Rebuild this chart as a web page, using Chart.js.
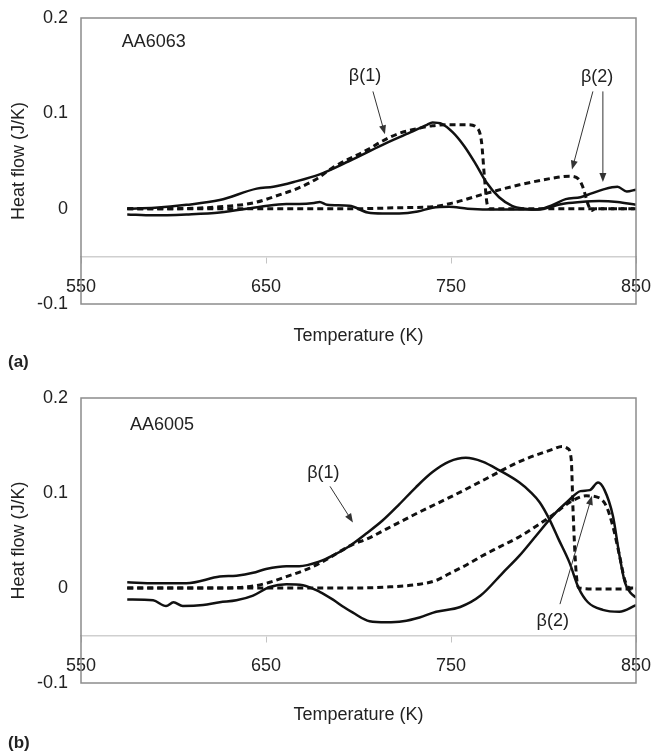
<!DOCTYPE html>
<html>
<head>
<meta charset="utf-8">
<script src="https://cdn.jsdelivr.net/npm/chart.js@4.4.0/dist/chart.umd.min.js"></script>
<style>
  body { margin: 0; background: #fff; }
  .panel { position: absolute; left: 0; width: 651px; }
  #panel-a { top: 0; height: 376px; }
  #panel-b { top: 376px; height: 379px; }
</style>
</head>
<body>
<div class="panel" id="panel-a"><canvas id="chart-a"></canvas></div>
<div class="panel" id="panel-b"><canvas id="chart-b"></canvas></div>
<script>
// tick labels
const xTicks = [550, 650, 750, 850];
const yTicks = [-0.1, 0, 0.1, 0.2];

// (a) AA6063 - temperature (K) and heat flow (J/K) per curve
const a63Solid1T = [575, 590, 607, 625, 645, 654, 665, 679, 695, 713, 728, 737, 740, 745, 751, 757, 763, 769, 776, 783, 790, 797, 805, 812, 820, 826, 832, 840, 845, 850];
const a63Solid1V = [0, 0.001, 0.004, 0.009, 0.021, 0.023, 0.028, 0.036, 0.05, 0.067, 0.08, 0.088, 0.0905, 0.089, 0.08, 0.066, 0.048, 0.028, 0.012, 0.003, 0, -0.001, 0.004, 0.01, 0.012, 0.016, 0.02, 0.023, 0.018, 0.02];
const a63Solid2T = [575, 589, 607, 625, 647, 661, 668, 676, 679, 683, 695, 705, 713, 722, 732, 740, 749, 759, 776, 790, 800, 810, 820, 830, 840, 850];
const a63Solid2V = [-0.006, -0.007, -0.006, -0.004, 0.002, 0.005, 0.005, 0.006, 0.007, 0.004, 0.003, -0.004, -0.005, -0.005, -0.003, 0.001, 0.002, 0, -0.001, -0.001, 0, 0.005, 0.007, 0.008, 0.007, 0.004];
const a63Dash1T = [575, 600, 625, 643, 658, 668, 678, 686, 705, 713, 722, 732, 740, 749, 759, 764, 766.5, 768, 769.5, 771, 790, 850];
const a63Dash1V = [0, 0, 0.002, 0.006, 0.015, 0.022, 0.032, 0.043, 0.062, 0.071, 0.079, 0.084, 0.087, 0.088, 0.088, 0.085, 0.07, 0.035, 0.005, 0, 0, 0];
const a63Dash2T = [575, 650, 700, 722, 740, 751, 769, 787, 805, 814, 819, 821, 822.5, 824, 826, 828, 850];
const a63Dash2V = [0, 0, 0, 0.001, 0.002, 0.006, 0.016, 0.025, 0.032, 0.034, 0.031, 0.024, 0.015, 0.005, -0.002, 0, 0];

// (b) AA6005
const b05Solid1T = [575, 590, 607, 625, 634, 643, 650, 661, 668, 679, 686, 695, 704, 713, 722, 731, 740, 749, 758, 767, 776, 787, 793, 798, 803, 808, 814, 819, 824, 832, 841, 850];
const b05Solid1V = [0.006, 0.005, 0.005, 0.012, 0.013, 0.016, 0.02, 0.023, 0.023, 0.028, 0.034, 0.044, 0.057, 0.071, 0.088, 0.106, 0.122, 0.133, 0.137, 0.133, 0.124, 0.111, 0.101, 0.09, 0.073, 0.052, 0.027, 0, -0.015, -0.023, -0.025, -0.018];
const b05Solid2T = [575, 589, 596, 600, 605, 616, 625, 634, 643, 652, 661, 670, 679, 686, 692, 697, 706, 715, 724, 733, 742, 755, 766, 778, 787, 796, 805, 813, 820, 825, 829.5, 833, 837.5, 841, 844, 847, 850];
const b05Solid2V = [-0.012, -0.013, -0.019, -0.015, -0.019, -0.018, -0.015, -0.013, -0.008, 0.001, 0.004, 0.003, -0.004, -0.012, -0.02, -0.026, -0.035, -0.036, -0.035, -0.031, -0.025, -0.02, -0.008, 0.016, 0.034, 0.055, 0.076, 0.091, 0.102, 0.103, 0.111, 0.103, 0.076, 0.035, 0.006, -0.005, -0.01];
const b05Dash1T = [575, 600, 625, 643, 652, 661, 670, 679, 697, 705, 715, 733, 751, 769, 787, 805, 810, 813, 815, 816, 817.5, 819, 830, 850];
const b05Dash1V = [0, 0, 0, 0.002, 0.006, 0.012, 0.018, 0.026, 0.046, 0.052, 0.062, 0.08, 0.097, 0.115, 0.133, 0.146, 0.149, 0.147, 0.135, 0.08, 0.02, 0, -0.001, -0.001];
const b05Dash2T = [575, 650, 697, 715, 733, 742, 749, 759, 767, 776, 787, 796, 805, 814, 823, 830, 834, 837.5, 841, 844, 847, 850];
const b05Dash2V = [0, 0, 0, 0.001, 0.004, 0.008, 0.015, 0.025, 0.034, 0.043, 0.054, 0.065, 0.077, 0.09, 0.097, 0.095, 0.086, 0.065, 0.035, 0.008, 0, 0];

const FONT = '"Liberation Sans", Arial, Helvetica, sans-serif';
Chart.defaults.font.family = FONT;
Chart.defaults.color = '#222';

// frame, notes, arrows, x title and panel tag
const panelDecor = {
  id: 'panelDecor',
  afterDatasetsDraw(chart, args, opts){
    const {ctx, chartArea: area} = chart;
    const x = chart.scales.x;
    const y = chart.scales.y;
    ctx.save();
    ctx.strokeStyle = '#8c8c8c';
    ctx.lineWidth = 1.5;
    ctx.strokeRect(area.left, area.top, area.right - area.left, area.bottom - area.top);

    ctx.fillStyle = '#222';
    ctx.textBaseline = 'middle';
    ctx.font = '18px ' + FONT;
    opts.notes.forEach((note) => {
      ctx.textAlign = note.align || 'center';
      ctx.fillText(note.text, x.getPixelForValue(note.t), y.getPixelForValue(note.v));
    });

    ctx.strokeStyle = '#333';
    ctx.lineWidth = 1;
    opts.arrows.forEach((a) => {
      const x1 = x.getPixelForValue(a[0]), y1 = y.getPixelForValue(a[1]);
      const x2 = x.getPixelForValue(a[2]), y2 = y.getPixelForValue(a[3]);
      const ang = Math.atan2(y2 - y1, x2 - x1);
      ctx.beginPath();
      ctx.moveTo(x1, y1);
      ctx.lineTo(x2 - 6 * Math.cos(ang), y2 - 6 * Math.sin(ang));
      ctx.stroke();
      ctx.beginPath();
      ctx.moveTo(x2, y2);
      ctx.lineTo(x2 - 9 * Math.cos(ang) + 3.5 * Math.sin(ang), y2 - 9 * Math.sin(ang) - 3.5 * Math.cos(ang));
      ctx.lineTo(x2 - 9 * Math.cos(ang) - 3.5 * Math.sin(ang), y2 - 9 * Math.sin(ang) + 3.5 * Math.cos(ang));
      ctx.closePath();
      ctx.fillStyle = '#333';
      ctx.fill();
    });

    ctx.fillStyle = '#222';
    ctx.textAlign = 'center';
    ctx.fillText('Temperature (K)', (area.left + area.right) / 2, area.bottom + 32);
    ctx.font = 'bold 17px ' + FONT;
    ctx.textAlign = 'left';
    ctx.fillText(opts.tag, 8, area.bottom + opts.tagGap);
    ctx.restore();
  }
};

const noPadding = (scale) => {
  scale.paddingLeft = 0;
  scale.paddingRight = 0;
  scale.paddingTop = 0;
  scale.paddingBottom = 0;
};

const PanelChart = function(canvas, panel){
  this.canvas = canvas;
  this.panel = panel;
}

PanelChart.prototype.getDatasets = function(){
  return this.panel.series.map((s) => {
    return {
      data: s.t.map((t, i) => ({x: t, y: s.v[i]})),
      borderColor: '#111',
      borderWidth: s.dashed ? 3 : 2.5,
      borderDash: s.dashed ? [6, 4] : [],
      pointRadius: 0,
      cubicInterpolationMode: 'monotone',
      fill: false
    };
  });
}

PanelChart.prototype.render = function(){
  const panel = this.panel;
  new Chart(this.canvas, {
    type: 'line',
    data: {datasets: this.getDatasets()},
    options: {
      responsive: true,
      maintainAspectRatio: false,
      animation: false,
      devicePixelRatio: 1,
      layout: {padding: {left: 8, right: 15, top: panel.top, bottom: panel.bottom}},
      plugins: {
        legend: {display: false},
        tooltip: {enabled: false},
        panelDecor: {notes: panel.notes, arrows: panel.arrows, tag: panel.tag, tagGap: panel.tagGap}
      },
      scales: {
        x: {
          type: 'linear',
          min: 550,
          max: 850,
          position: {y: -0.05},
          afterBuildTicks: (scale) => { scale.ticks = xTicks.map((v) => ({value: v})); },
          afterFit: noPadding,
          ticks: {font: {size: 18}, color: '#222', padding: 14, maxRotation: 0, autoSkip: false, callback: (v) => String(v)},
          grid: {drawOnChartArea: false, drawTicks: true, tickLength: 6, color: '#c4c4c4'},
          border: {display: true, color: '#cfcfcf', width: 1.5}
        },
        y: {
          min: -0.1,
          max: 0.2,
          afterBuildTicks: (scale) => { scale.ticks = yTicks.map((v) => ({value: v})); },
          afterFit: (scale) => { noPadding(scale); scale.width = 73; },
          ticks: {font: {size: 18}, color: '#222', padding: 13, callback: (v) => String(v)},
          grid: {display: false, drawTicks: false},
          border: {display: false},
          title: {display: true, text: 'Heat flow (J/K)', font: {size: 18}, color: '#222', padding: {top: 0, bottom: 0}}
        }
      }
    },
    plugins: [panelDecor]
  });
}

const panelA = {
  top: 18, bottom: 72, tag: '(a)', tagGap: 58,
  series: [
    {t: a63Solid1T, v: a63Solid1V, dashed: false},
    {t: a63Solid2T, v: a63Solid2V, dashed: false},
    {t: a63Dash1T, v: a63Dash1V, dashed: true},
    {t: a63Dash2T, v: a63Dash2V, dashed: true}
  ],
  notes: [
    {text: 'AA6063', t: 572, v: 0.175, align: 'left'},
    {text: 'β(1)', t: 703.5, v: 0.139},
    {text: 'β(2)', t: 829, v: 0.138}
  ],
  arrows: [[707.8, 0.123, 714.3, 0.078], [826.7, 0.123, 815.4, 0.041], [832.1, 0.123, 832.1, 0.028]]
};

const panelB = {
  top: 22, bottom: 72, tag: '(b)', tagGap: 60,
  series: [
    {t: b05Solid1T, v: b05Solid1V, dashed: false},
    {t: b05Solid2T, v: b05Solid2V, dashed: false},
    {t: b05Dash1T, v: b05Dash1V, dashed: true},
    {t: b05Dash2T, v: b05Dash2V, dashed: true}
  ],
  notes: [
    {text: 'AA6005', t: 576.5, v: 0.172, align: 'left'},
    {text: 'β(1)', t: 681, v: 0.121},
    {text: 'β(2)', t: 805, v: -0.035}
  ],
  arrows: [[684.6, 0.107, 697, 0.069], [808.9, -0.017, 826.2, 0.097]]
};

new PanelChart(document.querySelector('#chart-a'), panelA).render();
new PanelChart(document.querySelector('#chart-b'), panelB).render();
</script>
</body>
</html>
